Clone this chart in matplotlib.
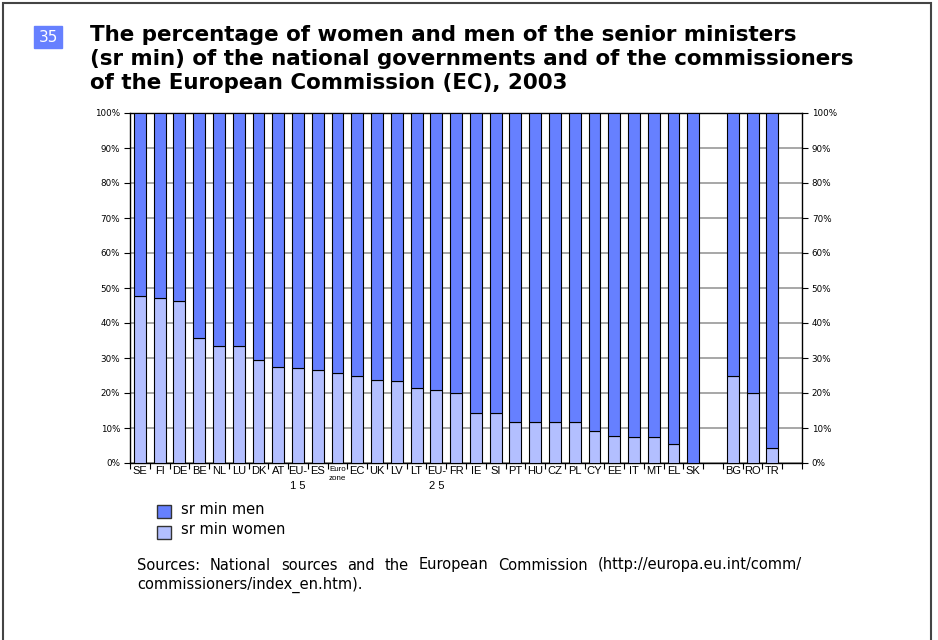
import numpy as np
import matplotlib
matplotlib.use('Agg')
import matplotlib.pyplot as plt
import matplotlib.patches as mpatches

# categories (empty string = gap slot)
labels = ['SE', 'FI', 'DE', 'BE', 'NL', 'LU', 'DK', 'AT', 'EU-\n1 5', 'ES', 'Euro\nzone', 'EC', 'UK',
          'LV', 'LT', 'EU-\n2 5', 'FR', 'IE', 'SI', 'PT', 'HU', 'CZ', 'PL', 'CY', 'EE', 'IT', 'MT',
          'EL', 'SK', '', 'BG', 'RO', 'TR', '']
# % women among senior ministers (None = no bar)
women = [47.6, 47.1, 46.2, 35.7, 33.3, 33.3, 29.4, 27.3, 27.2, 26.5, 25.6, 25.0, 23.8,
         23.5, 21.4, 21.0, 20.0, 14.3, 14.3, 11.8, 11.8, 11.8, 11.8, 9.1, 7.7, 7.3, 7.3,
         5.3, 0.0, None, 25.0, 20.0, 4.3, None]

men_col = '#6680ff'
women_col = '#b3bfff'

idx = [i for i, v in enumerate(women) if v is not None]
x = np.array(idx) + 0.5
w = np.array([women[i] for i in idx])
m = 100 - w

W, H = 938, 640
fig = plt.figure(figsize=(W/100, H/100), dpi=100)
ax = fig.add_axes([130/W, 1-463/H, 672/W, 350/H])

ax.bar(x, w, width=0.6, color=women_col, edgecolor='black', linewidth=0.8, zorder=3)
ax.bar(x, m, bottom=w, width=0.6, color=men_col, edgecolor='black', linewidth=0.8, zorder=3)

ax.set_xlim(0, len(labels))
ax.set_ylim(0, 100)
ax.set_yticks(np.arange(0, 101, 10))
ax.set_yticklabels([f'{v}%' for v in range(0, 101, 10)], fontsize=6.3)
ax.yaxis.grid(True, color='#a0a0a0', linewidth=1.3, zorder=0)
ax.tick_params(axis='y', which='both', left=True, right=True, labelleft=True, labelright=True,
               length=4, width=0.8, pad=3)

# labels at slot centres, tick marks at slot borders
ax.set_xticks(np.arange(len(labels)) + 0.5)
ax.set_xticklabels(labels, fontsize=8, family='Liberation Sans', linespacing=1.65)
for t, lab in zip(ax.get_xticklabels(), labels):
    if lab == 'Euro\nzone':
        t.set_fontsize(5.8)
        t.set_linespacing(1.5)
ax.tick_params(axis='x', which='major', length=0, pad=2)
ax.set_xticks(np.arange(len(labels) + 1), minor=True)
ax.tick_params(axis='x', which='minor', length=4, width=0.8)

for s in ax.spines.values():
    s.set_color('black')
    s.set_linewidth(1.0)

# number badge
fig.patches.append(mpatches.Rectangle((34/W, 1-48/H), 28/W, 22/H,
                                      transform=fig.transFigure, color='#6680ff'))
fig.text(48/W, 1-37.5/H, '35', color='white', fontsize=11, ha='center', va='center')

fig.text(90/W, 1-25/H,
         'The percentage of women and men of the senior ministers\n'
         '(sr min) of the national governments and of the commissioners\n'
         'of the European Commission (EC), 2003',
         fontsize=15.4, fontweight='bold', ha='left', va='top', linespacing=1.24)

# legend
fig.patches.append(mpatches.Rectangle((157/W, 1-518/H), 14/W, 13/H, transform=fig.transFigure,
                                      facecolor=men_col, edgecolor='#333333', linewidth=1))
fig.patches.append(mpatches.Rectangle((157/W, 1-539/H), 14/W, 13/H, transform=fig.transFigure,
                                      facecolor=women_col, edgecolor='#333333', linewidth=1))
fig.text(181/W, 1-509/H, 'sr min men', fontsize=10.5, va='center')
fig.text(181/W, 1-530/H, 'sr min women', fontsize=10.5, va='center')

# source note, first line justified between x=137 and x=802
src1 = 'Sources: National sources and the European Commission (http://europa.eu.int/comm/'
src2 = 'commissioners/index_en.htm).'
words = src1.split(' ')
renderer = fig.canvas.get_renderer()
tw = []
for wd in words:
    t = fig.text(0, 0, wd, fontsize=10.5)
    tw.append(t.get_window_extent(renderer).width)
    t.remove()
gap = (802 - 137 - sum(tw)) / (len(words) - 1)
xp = 137
for wd, wpx in zip(words, tw):
    fig.text(xp/W, 1-565/H, wd, fontsize=10.5, va='center')
    xp += wpx + gap
fig.text(137/W, 1-585/H, src2, fontsize=10.5, va='center')

# page frame
fig.patches.append(mpatches.Rectangle((3/W, -0.05), 928/W, 1.05 - 3/H, transform=fig.transFigure,
                                      fill=False, edgecolor='#444444', linewidth=1.5))

fig.savefig('out.png', dpi=100)
